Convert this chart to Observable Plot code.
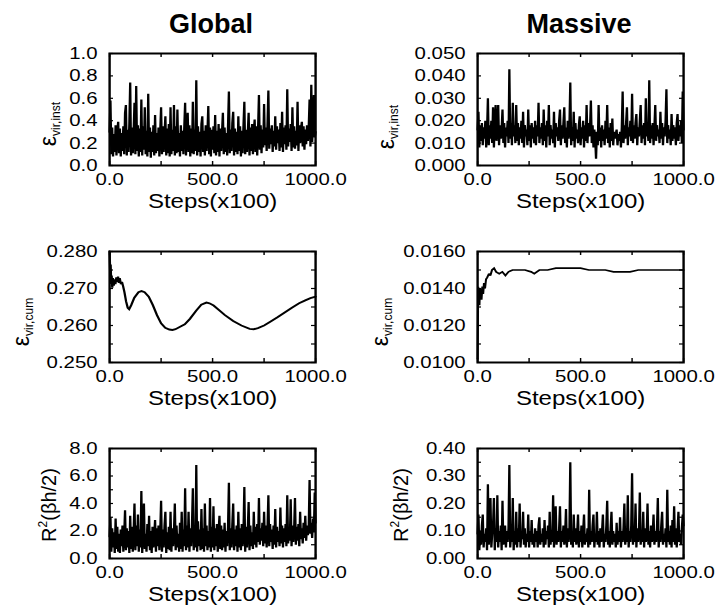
<!DOCTYPE html>
<html><head><meta charset="utf-8">
<script src="https://cdn.jsdelivr.net/npm/d3@7"></script>
<script src="https://cdn.jsdelivr.net/npm/@observablehq/plot@0.6"></script>
<style>
body{margin:0;background:#fff;}
#root{position:relative;width:717px;height:609px;background:#fff;overflow:hidden;font-family:"Liberation Sans",Arial,Helvetica,sans-serif;color:#000;}
.panel{position:absolute;transform-origin:0 0;}
.title{position:absolute;font-weight:bold;font-size:27px;line-height:1;white-space:nowrap;transform:translateX(-50%);}
.ylab{position:absolute;white-space:nowrap;line-height:1;transform:translate(-50%,-50%) rotate(-90deg);}
.ylab sub{font-size:12px;vertical-align:-4px;}
.ylab sup{font-size:12px;vertical-align:9px;}
</style>
</head><body><div id="root"></div><script>
// ---------- data (one row = 50 steps) ----------
const xTickLabels = [0, 500, 1000];
const xTickMarks = [0, 250, 500, 750, 1000];

const globalInst = [
0.30,0.58,0.10,0.34,0.08,0.28,0.12,0.36,0.09,0.31,0.39,0.11,
0.33,0.08,0.29,0.13,0.35,0.10,0.47,0.54,0.09,0.32,0.12,0.37,
0.74,0.09,0.34,0.11,0.30,0.56,0.10,0.71,0.13,0.36,0.08,0.33,
0.12,0.59,0.09,0.35,0.14,0.52,0.10,0.31,0.08,0.64,0.12,0.34,
0.07,0.30,0.12,0.36,0.09,0.45,0.11,0.29,0.13,0.34,0.08,0.31,
0.52,0.10,0.35,0.12,0.28,0.44,0.09,0.33,0.11,0.37,0.08,0.52,
0.10,0.32,0.13,0.54,0.09,0.35,0.11,0.50,0.12,0.29,0.08,0.36,
0.13,0.31,0.10,0.34,0.56,0.09,0.30,0.47,0.12,0.36,0.08,0.33,
0.11,0.57,0.10,0.32,0.13,0.76,0.09,0.35,0.12,0.30,0.08,0.37,
0.44,0.12,0.31,0.09,0.36,0.13,0.29,0.53,0.10,0.34,0.08,0.32,
0.14,0.35,0.11,0.45,0.09,0.31,0.12,0.37,0.08,0.33,0.13,0.30,
0.47,0.10,0.34,0.12,0.29,0.09,0.36,0.66,0.11,0.32,0.13,0.38,
0.48,0.09,0.33,0.12,0.30,0.10,0.44,0.13,0.35,0.08,0.31,0.11,
0.36,0.57,0.10,0.32,0.12,0.29,0.47,0.09,0.34,0.13,0.37,0.10,
0.30,0.41,0.12,0.35,0.09,0.33,0.63,0.14,0.36,0.11,0.32,0.16,
0.55,0.18,0.34,0.13,0.37,0.67,0.15,0.33,0.19,0.36,0.12,0.31,
0.17,0.44,0.14,0.35,0.20,0.32,0.13,0.38,0.16,0.48,0.12,0.34,
0.19,0.36,0.14,0.68,0.17,0.33,0.21,0.37,0.13,0.52,0.16,0.35,
0.15,0.31,0.18,0.57,0.13,0.36,0.20,0.33,0.39,0.17,0.35,0.14,
0.32,0.19,0.36,0.22,0.34,0.59,0.17,0.72,0.21,0.37,0.63,0.25,
0.30];
const globalInstTicks = [0, 0.2, 0.4, 0.6, 0.8, 1.0];

const massiveInst = [
0.016,0.024,0.008,0.018,0.011,0.019,0.009,0.017,0.012,0.020,0.008,0.015,
0.030,0.009,0.018,0.012,0.020,0.010,0.026,0.008,0.019,0.027,0.011,0.017,
0.027,0.009,0.018,0.012,0.016,0.025,0.010,0.019,0.008,0.017,0.013,0.020,
0.010,0.043,0.012,0.019,0.009,0.028,0.013,0.018,0.010,0.027,0.011,0.019,
0.009,0.017,0.012,0.020,0.010,0.024,0.008,0.018,0.013,0.016,0.009,0.025,
0.011,0.018,0.008,0.019,0.012,0.017,0.010,0.020,0.009,0.018,0.013,0.028,
0.010,0.017,0.012,0.019,0.009,0.025,0.011,0.018,0.008,0.020,0.013,0.027,
0.009,0.018,0.012,0.016,0.010,0.024,0.008,0.019,0.013,0.017,0.011,0.020,
0.025,0.009,0.018,0.012,0.019,0.026,0.010,0.017,0.008,0.020,0.012,0.018,
0.037,0.009,0.017,0.011,0.024,0.008,0.019,0.012,0.016,0.010,0.018,0.022,
0.009,0.017,0.012,0.020,0.008,0.018,0.011,0.027,0.010,0.019,0.013,0.017,
0.029,0.010,0.018,0.008,0.016,0.012,0.003,0.015,0.009,0.027,0.011,0.017,
0.008,0.018,0.011,0.016,0.009,0.020,0.012,0.027,0.010,0.017,0.008,0.019,
0.011,0.021,0.009,0.015,0.012,0.014,0.016,0.009,0.014,0.011,0.015,0.008,
0.017,0.033,0.010,0.018,0.012,0.019,0.026,0.009,0.017,0.013,0.020,0.011,
0.032,0.010,0.018,0.012,0.019,0.023,0.009,0.017,0.013,0.020,0.027,0.010,
0.018,0.012,0.019,0.009,0.030,0.013,0.017,0.011,0.038,0.010,0.018,0.012,
0.019,0.009,0.017,0.027,0.011,0.018,0.013,0.016,0.010,0.024,0.012,0.019,
0.009,0.017,0.013,0.020,0.034,0.010,0.018,0.012,0.016,0.009,0.023,0.011,
0.018,0.012,0.017,0.009,0.019,0.023,0.011,0.018,0.013,0.020,0.010,0.033,
0.016];
const massiveInstTicks = [0, 0.01, 0.02, 0.03, 0.04, 0.05];

const globalCumSteps = [0,3,5,8,10,13,16,20,24,28,33,38,41,45,49,55,60,66,72,80,88,95,105,120,140,155,170,190,210,230,250,270,290,305,320,340,365,390,420,445,470,485,505,530,560,600,640,680,700,720,750,780,815,850,885,920,950,975,1000];
const globalCum = [0.2800,0.2740,0.2765,0.2712,0.2735,0.2702,0.2728,0.2708,0.2725,0.2712,0.2730,0.2718,0.2732,0.2715,0.2728,0.2712,0.2718,0.2705,0.2690,0.2665,0.2648,0.2644,0.2655,0.2675,0.2690,0.2693,0.2690,0.2678,0.2655,0.2628,0.2606,0.2594,0.2589,0.2588,0.2590,0.2596,0.2603,0.2618,0.2640,0.2656,0.2662,0.2660,0.2654,0.2642,0.2628,0.2612,0.2600,0.2591,0.2590,0.2593,0.2600,0.2610,0.2622,0.2635,0.2648,0.2660,0.2668,0.2674,0.2678];
const globalCumTicks = [0.25, 0.26, 0.27, 0.28];
const globalCumMinor = [0.25, 0.255, 0.26, 0.265, 0.27, 0.275, 0.28];

const massiveCumSteps = [0,2,3,5,7,9,11,13,16,19,23,27,31,36,41,47,55,62,70,80,90,105,120,135,150,170,200,230,260,275,300,340,380,420,460,500,540,580,620,660,700,740,780,820,860,900,950,1000];
const massiveCum = [0.0102,0.0128,0.0141,0.0133,0.0140,0.0131,0.0138,0.0134,0.0140,0.0134,0.0141,0.0137,0.0143,0.0140,0.0145,0.0146,0.0148,0.0147,0.0150,0.0151,0.0149,0.0148,0.0149,0.0147,0.0149,0.0150,0.0150,0.0150,0.0149,0.0148,0.0150,0.0150,0.0151,0.0151,0.0151,0.0151,0.0150,0.0150,0.0150,0.0149,0.0149,0.0149,0.0150,0.0150,0.0150,0.0150,0.0150,0.0150];
const massiveCumTicks = [0.010, 0.012, 0.014, 0.016];
const massiveCumMinor = [0.010, 0.011, 0.012, 0.013, 0.014, 0.015, 0.016];

const globalR2 = [
1.6,3.0,0.5,2.2,0.8,1.9,0.4,2.9,0.7,2.3,0.5,1.8,
0.4,2.1,0.9,2.4,0.5,1.7,3.5,0.6,2.2,0.8,2.0,0.4,
3.1,0.7,2.3,0.5,1.9,4.0,0.6,2.4,0.9,3.2,0.5,2.1,
0.8,4.9,0.4,2.2,4.0,0.7,1.8,0.5,2.5,0.9,3.1,0.6,
2.0,0.4,2.3,0.8,1.7,2.8,0.5,2.2,0.9,2.4,0.6,1.9,
4.2,0.5,2.1,0.8,2.4,3.4,0.4,1.9,0.7,2.3,0.6,3.4,
0.5,2.2,0.9,2.0,4.0,0.6,2.4,0.8,1.8,0.5,2.6,0.7,
3.4,0.5,2.1,0.9,5.1,0.6,2.4,0.8,3.4,0.5,2.2,0.9,
2.5,5.1,0.6,2.3,0.8,6.8,0.5,2.7,0.9,2.1,0.6,3.6,
0.7,2.2,0.5,4.0,0.9,2.4,0.6,2.0,0.8,4.4,0.5,2.3,
0.8,3.8,0.6,2.2,0.9,2.5,0.5,1.9,3.1,0.7,2.4,0.6,
2.1,0.8,2.6,0.5,2.0,0.9,2.3,5.5,0.6,2.2,0.8,2.5,
4.0,0.6,2.1,0.9,2.4,0.5,3.4,0.8,2.2,0.6,2.5,0.9,
2.0,5.2,0.5,2.3,0.8,2.1,4.1,0.6,2.4,0.9,1.9,0.7,
3.4,1.0,2.3,0.8,2.5,1.2,4.4,1.0,2.2,1.3,2.6,0.9,
3.4,1.1,2.4,0.8,2.2,4.6,0.9,2.5,1.2,2.1,0.7,2.4,
1.0,3.6,0.8,2.3,1.2,2.0,0.9,3.7,1.1,2.4,0.8,2.2,
1.2,2.5,0.9,4.6,1.1,2.2,1.3,4.3,0.9,2.4,1.2,2.1,
4.4,1.0,2.3,1.3,2.5,0.9,3.4,1.4,2.2,1.1,2.6,1.5,
3.1,1.3,2.4,1.7,2.2,5.7,1.8,2.6,1.5,2.9,1.9,4.8,
2.6];
const globalR2Ticks = [0, 2, 4, 6, 8];
const globalR2Minor = [0, 1, 2, 3, 4, 5, 6, 7, 8];

const massiveR2 = [
0.09,0.16,0.03,0.10,0.05,0.12,0.16,0.04,0.09,0.06,0.11,0.03,
0.27,0.05,0.10,0.22,0.04,0.09,0.12,0.22,0.03,0.11,0.06,0.23,
0.04,0.10,0.06,0.12,0.03,0.21,0.05,0.09,0.12,0.04,0.10,0.06,
0.11,0.34,0.04,0.09,0.06,0.22,0.03,0.10,0.05,0.17,0.04,0.11,
0.06,0.20,0.04,0.09,0.07,0.17,0.05,0.11,0.04,0.09,0.06,0.16,
0.04,0.10,0.06,0.14,0.05,0.09,0.04,0.11,0.06,0.10,0.04,0.12,
0.15,0.05,0.09,0.06,0.11,0.04,0.14,0.05,0.10,0.07,0.12,0.04,
0.17,0.05,0.10,0.06,0.23,0.04,0.12,0.19,0.05,0.10,0.06,0.11,
0.19,0.04,0.10,0.06,0.12,0.05,0.09,0.18,0.04,0.11,0.06,0.10,
0.35,0.05,0.10,0.04,0.16,0.06,0.11,0.05,0.09,0.16,0.04,0.10,
0.06,0.12,0.04,0.10,0.16,0.05,0.09,0.06,0.11,0.04,0.25,0.05,
0.10,0.06,0.12,0.16,0.04,0.09,0.06,0.17,0.05,0.10,0.04,0.11,
0.06,0.10,0.16,0.04,0.09,0.06,0.12,0.21,0.05,0.10,0.04,0.11,
0.17,0.05,0.10,0.06,0.09,0.04,0.13,0.05,0.10,0.06,0.15,0.04,
0.10,0.06,0.11,0.20,0.05,0.09,0.06,0.23,0.04,0.10,0.06,0.12,
0.31,0.05,0.10,0.06,0.20,0.04,0.11,0.06,0.09,0.24,0.05,0.10,
0.06,0.17,0.04,0.11,0.06,0.09,0.20,0.05,0.10,0.04,0.12,0.06,
0.09,0.16,0.05,0.10,0.06,0.11,0.22,0.04,0.10,0.06,0.12,0.17,
0.05,0.09,0.06,0.11,0.04,0.25,0.06,0.10,0.05,0.12,0.04,0.14,
0.06,0.19,0.05,0.11,0.04,0.10,0.17,0.06,0.09,0.05,0.11,0.16,
0.12];
const massiveR2Ticks = [0, 0.1, 0.2, 0.3, 0.4];
const massiveR2Minor = [0, 0.05, 0.1, 0.15, 0.2, 0.25, 0.3, 0.35, 0.4];

// ---------- build ----------
const root = document.getElementById("root");
const FONT = '"Liberation Sans", Arial, Helvetica, sans-serif';
const S = 1.2;               // horizontal stretch of the original figure
const FW = 206;              // frame width in page px
const ML = 70, MR = 32, MT = 6, MB = 56;

const bySteps = vals => vals.map((v, i) => ({step: i * 1000 / (vals.length - 1), value: v}));
const zip = (st, vals) => st.map((s, i) => ({step: s, value: vals[i]}));

function panel(o) {
  const W = FW / S;
  const H = o.frameH;
  const p = Plot.plot({
    width: ML + W + MR,
    height: MT + H + MB,
    marginLeft: ML, marginRight: MR, marginTop: MT, marginBottom: MB,
    style: {fontFamily: FONT, fontSize: "17px", color: "#000", background: "transparent", overflow: "visible"},
    x: {domain: [0, 1000], ticks: xTickLabels, tickFormat: d => d.toFixed(1), tickSize: 0, tickPadding: 7, label: null},
    y: {domain: o.yDomain, ticks: o.yTicks, tickFormat: d => d.toFixed(o.digits), tickSize: 0, tickPadding: 10, label: null},
    marks: [
      Plot.line(o.data, {x: "step", y: "value", stroke: "#000", strokeWidth: o.sw, strokeLinejoin: "miter", strokeMiterlimit: 2}),
      Plot.ruleX(xTickMarks, {insetTop: H - 4, stroke: "#000", strokeWidth: 1.2}),
      Plot.ruleX(xTickMarks, {insetBottom: H - 4, stroke: "#000", strokeWidth: 1.2}),
      Plot.ruleY(o.yMinor, {insetRight: W - 4 / S, stroke: "#000", strokeWidth: 1.2}),
      Plot.ruleY(o.yMinor, {insetLeft: W - 4 / S, stroke: "#000", strokeWidth: 1.2}),
      Plot.frame({stroke: "#000", strokeWidth: 2}),
      Plot.text(["Steps(x100)"], {frameAnchor: "bottom", lineAnchor: "top", dy: 28, fontSize: 20, fill: "#000"})
    ]
  });
  p.classList.add("panel");
  p.style.left = (o.frameX - ML * S) + "px";
  p.style.top = (o.frameY - MT) + "px";
  p.style.transform = `scaleX(${S})`;
  root.appendChild(p);

  const lab = document.createElement("div");
  lab.className = "ylab";
  lab.innerHTML = o.label;
  lab.style.left = o.labX + "px";
  lab.style.top = o.labY + "px";
  root.appendChild(lab);
}

const epsInst = '<span style="font-size:23px">ε</span><sub>vir,inst</sub>';
const epsCum = '<span style="font-size:23px">ε</span><sub>vir,cum</sub>';
const r2 = '<span style="font-size:20px">R<sup>2</sup>(βh/2)</span>';

panel({frameX: 109, frameY: 53, frameH: 112, data: bySteps(globalInst), sw: 1.9,
  yDomain: [0, 1], yTicks: globalInstTicks, yMinor: globalInstTicks, digits: 1,
  label: epsInst, labX: 49, labY: 124});
panel({frameX: 477, frameY: 53, frameH: 112, data: bySteps(massiveInst), sw: 1.9,
  yDomain: [0, 0.05], yTicks: massiveInstTicks, yMinor: massiveInstTicks, digits: 3,
  label: epsInst, labX: 387, labY: 127});
panel({frameX: 109, frameY: 251, frameH: 111, data: zip(globalCumSteps, globalCum), sw: 1.9,
  yDomain: [0.25, 0.28], yTicks: globalCumTicks, yMinor: globalCumMinor, digits: 3,
  label: epsCum, labX: 22, labY: 322});
panel({frameX: 477, frameY: 251, frameH: 111, data: zip(massiveCumSteps, massiveCum), sw: 1.7,
  yDomain: [0.010, 0.016], yTicks: massiveCumTicks, yMinor: massiveCumMinor, digits: 4,
  label: epsCum, labX: 381, labY: 322});
panel({frameX: 109, frameY: 448, frameH: 110, data: bySteps(globalR2), sw: 1.9,
  yDomain: [0, 8], yTicks: globalR2Ticks, yMinor: globalR2Minor, digits: 1,
  label: r2, labX: 48, labY: 505});
panel({frameX: 477, frameY: 448, frameH: 110, data: bySteps(massiveR2), sw: 1.9,
  yDomain: [0, 0.4], yTicks: massiveR2Ticks, yMinor: massiveR2Minor, digits: 2,
  label: r2, labX: 400, labY: 505});

for (const [t, cx] of [["Global", 211], ["Massive", 579]]) {
  const d = document.createElement("div");
  d.className = "title";
  d.textContent = t;
  d.style.left = cx + "px";
  d.style.top = "11px";
  root.appendChild(d);
}
</script></body></html>
